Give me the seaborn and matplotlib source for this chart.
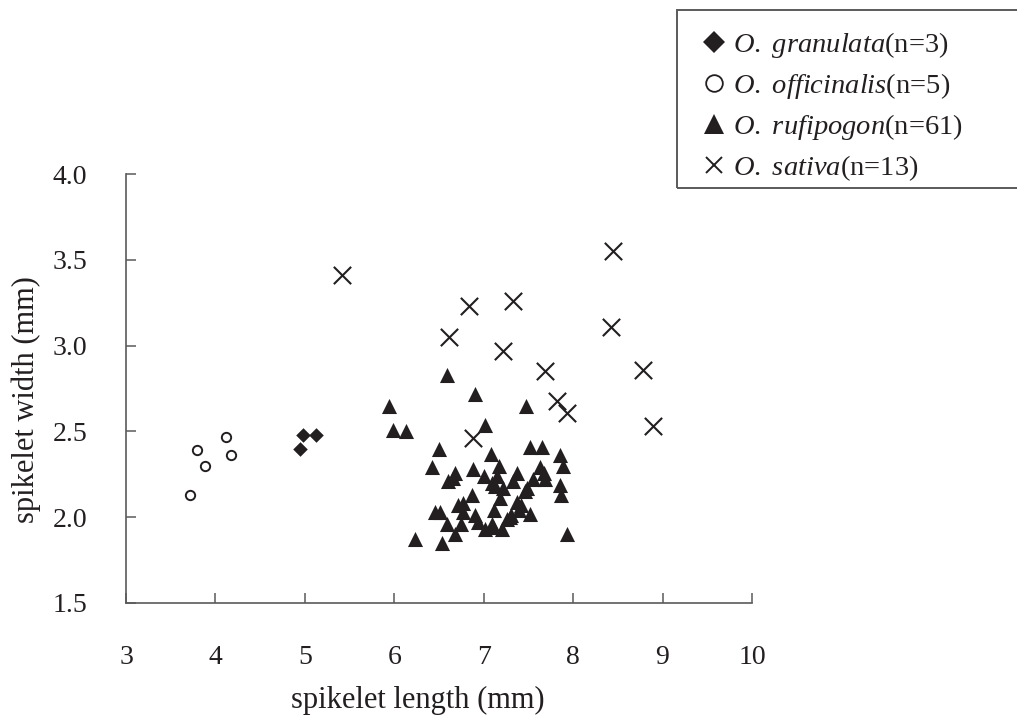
import pandas as pd
import matplotlib.pyplot as plt
from matplotlib.lines import Line2D
from matplotlib.patches import Rectangle
import seaborn as sns

# data (spikelet length / width in mm)
granulata_len = [4.98, 5.12, 4.95]
granulata_wid = [2.48, 2.48, 2.40]

officinalis_len = [4.12, 3.79, 4.17, 3.88, 3.72]
officinalis_wid = [2.47, 2.39, 2.36, 2.30, 2.13]

rufipogon_len = [6.59, 6.90, 7.47, 5.94, 5.99, 6.13, 7.02, 6.50, 7.08, 7.52,
                 7.65, 7.85, 7.89, 6.42, 6.68, 6.60, 6.88, 7.17, 7.00, 7.15,
                 7.37, 7.33, 7.63, 7.67, 7.55, 7.46, 7.85, 7.87, 7.09, 6.87,
                 6.77, 7.18, 7.11, 7.37, 7.39, 7.29, 7.52, 6.46, 6.51, 6.59,
                 6.75, 6.94, 7.01, 7.09, 7.20, 7.26, 6.68, 6.23, 6.53, 7.93,
                 7.13, 6.77, 7.31, 7.10, 6.66, 7.42, 7.69, 6.90, 7.22, 6.71,
                 7.48]
rufipogon_wid = [2.83, 2.72, 2.65, 2.65, 2.51, 2.50, 2.54, 2.40, 2.37, 2.41,
                 2.41, 2.36, 2.30, 2.29, 2.26, 2.21, 2.28, 2.30, 2.24, 2.24,
                 2.26, 2.21, 2.29, 2.26, 2.22, 2.15, 2.19, 2.13, 2.20, 2.13,
                 2.08, 2.11, 2.04, 2.09, 2.04, 2.00, 2.02, 2.03, 2.03, 1.96,
                 1.96, 1.97, 1.93, 1.96, 1.93, 1.99, 1.90, 1.87, 1.85, 1.90,
                 2.18, 2.03, 2.01, 1.94, 2.23, 2.07, 2.22, 2.01, 2.17, 2.07,
                 2.17]

sativa_len = [5.41, 6.84, 7.33, 8.45, 6.61, 7.22, 8.42, 8.78, 7.69, 7.82,
              7.93, 6.88, 8.89]
sativa_wid = [3.41, 3.23, 3.26, 3.55, 3.05, 2.97, 3.11, 2.86, 2.85, 2.68,
              2.61, 2.46, 2.53]

species = ['O. granulata', 'O. officinalis', 'O. rufipogon', 'O. sativa']
counts = [3, 5, 61, 13]
x_ticks = [3, 4, 5, 6, 7, 8, 9, 10]
y_ticks = [1.5, 2.0, 2.5, 3.0, 3.5, 4.0]

frames = []
for name, xs, ys in zip(species,
                        [granulata_len, officinalis_len, rufipogon_len, sativa_len],
                        [granulata_wid, officinalis_wid, rufipogon_wid, sativa_wid]):
    frames.append(pd.DataFrame({'length': xs, 'width': ys, 'species': name}))
df = pd.concat(frames, ignore_index=True)

sns.set_style('ticks')
plt.rcParams['font.family'] = ['Liberation Serif', 'DejaVu Serif']
plt.rcParams['mathtext.fontset'] = 'custom'
plt.rcParams['mathtext.rm'] = 'Liberation Serif'
plt.rcParams['mathtext.it'] = 'Liberation Serif:italic'

ink = '#231f20'
axis_grey = '#5a5a5a'

fig = plt.figure(figsize=(10.17, 7.23), dpi=100)
ax = fig.add_axes([0.1239, 0.166, 0.6155, 0.5933])

# marker style per species (plot) and for the legend keys
styles = {
    'O. granulata': dict(marker='D', s=55, color=ink, edgecolor=ink, linewidth=0),
    'O. officinalis': dict(marker='o', s=45, color='white', edgecolor=ink, linewidth=1.4),
    'O. rufipogon': dict(marker='^', s=118, color=ink, edgecolor=ink, linewidth=0),
    'O. sativa': dict(marker='x', s=155, color=ink, linewidth=1.5),
}
key_styles = {
    'O. granulata': dict(marker='D', markersize=11, color=ink, markeredgewidth=0),
    'O. officinalis': dict(marker='o', markersize=12, markerfacecolor='white',
                           markeredgecolor=ink, markeredgewidth=1.3),
    'O. rufipogon': dict(marker='^', markersize=14.5, color=ink, markeredgewidth=0),
    'O. sativa': dict(marker='x', markersize=11, color=ink, markeredgewidth=1.4),
}

handles, labels = [], []
for name, n in zip(species, counts):
    genus, epithet = name.split(' ')
    sns.scatterplot(data=df[df['species'] == name], x='length', y='width',
                    ax=ax, legend=False, **styles[name])
    handles.append(Line2D([], [], linestyle='none', **key_styles[name]))
    labels.append(r'$\it{' + genus + r'}$ $\it{' + epithet + r'}$(n=' + str(n) + ')')

ax.set_xlim(3, 10)
ax.set_ylim(1.5, 4.0)
ax.set_xticks(x_ticks)
ax.set_xticklabels([str(t) for t in x_ticks])
ax.set_yticks(y_ticks)
ax.set_yticklabels([f'{t:.1f}' for t in y_ticks])

for side in ['top', 'right']:
    ax.spines[side].set_visible(False)
for side in ['left', 'bottom']:
    ax.spines[side].set_color(axis_grey)
    ax.spines[side].set_linewidth(1.2)

ax.tick_params(axis='both', direction='in', length=7, width=1.1,
               color=axis_grey, labelsize=20, labelcolor=ink)
ax.tick_params(axis='y', pad=28)
ax.tick_params(axis='x', pad=30)

ax.set_xlabel('spikelet length (mm)', fontsize=22, color=ink)
ax.set_ylabel('spikelet width (mm)', fontsize=22, color=ink)
ax.xaxis.set_label_coords(0.466, -0.194)
ax.yaxis.set_label_coords(-0.136, 0.475)

# legend box: runs off the right edge of the figure like the original
fig.patches.append(Rectangle((677 / 1017, 1 - 188 / 723), 0.5, 178 / 723,
                             transform=fig.transFigure, fill=False,
                             edgecolor=axis_grey, linewidth=1.4))

leg = fig.legend(handles, labels, loc='upper left',
                 bbox_to_anchor=(0.684, 0.958), borderaxespad=0,
                 fontsize=20.5, frameon=False,
                 handlelength=1.3, handletextpad=0.0, labelspacing=0.38,
                 borderpad=0)
for t in leg.get_texts():
    t.set_color(ink)

fig.savefig('out.png', dpi=100)
